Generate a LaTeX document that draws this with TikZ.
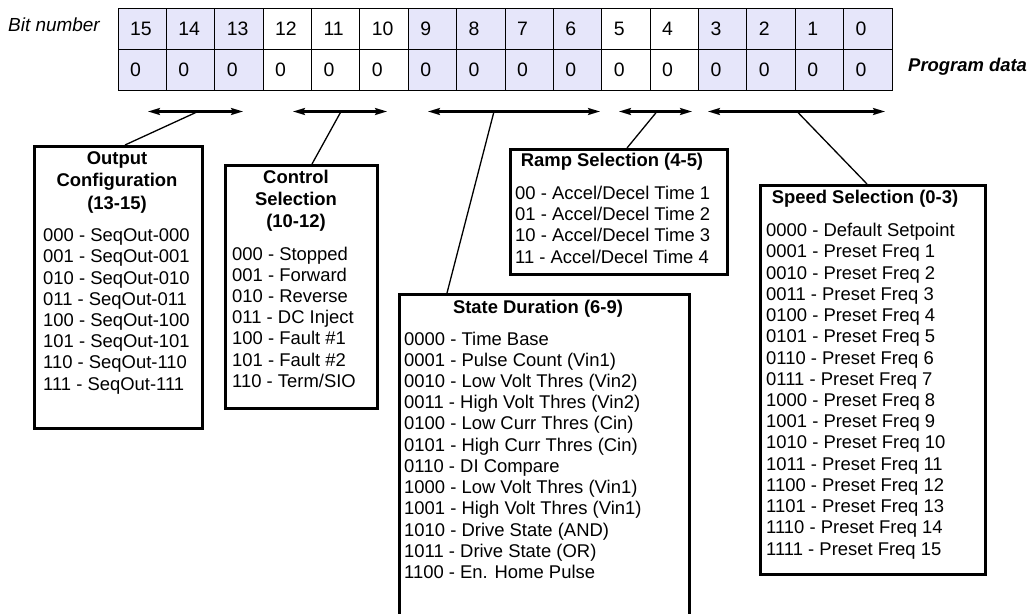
\documentclass[tikz,border=0pt]{standalone}
\usepackage{fontspec}
\setmainfont{Liberation Sans}
\usepackage{xcolor}
\usetikzlibrary{arrows.meta}

\definecolor{lav}{RGB}{230,230,250}
\newcommand{\cellfont}{\fontsize{19.5}{22}\selectfont}
\newcommand{\listfont}{\fontsize{18.5}{21.3}\selectfont}
\newcommand{\headfont}{\fontsize{18.5}{22.5}\selectfont\bfseries}

\begin{document}
\begin{tikzpicture}[x=1bp, y=-1bp]
    % Define styles
    \tikzstyle{cell} = [draw, line width=0.8bp, minimum width=48.375bp, minimum height=41bp, text width=24.375bp, inner xsep=12bp, inner ysep=0pt, align=left, font=\cellfont]
    \tikzstyle{field} = [draw, line width=3bp, anchor=north west, inner sep=0pt]
    \tikzstyle{head} = [font=\headfont, inner sep=0pt, align=center]
    \tikzstyle{items} = [font=\listfont, inner sep=0pt, align=left, anchor=north west]
    \tikzstyle{span} = [{Stealth[length=12bp, width=7bp, inset=2bp]}-{Stealth[length=12bp, width=7bp, inset=2bp]}, line width=2.2bp]
    \tikzstyle{lead} = [line width=1.3bp]

    \useasboundingbox (0,0) rectangle (1030,614);
    \clip (0,0) rectangle (1030,614);

    % Register: bit numbers and program data
    \foreach \i in {0,...,15} {
        \pgfmathtruncatemacro{\b}{15-\i}
        \pgfmathtruncatemacro{\sh}{(\b>12)||((\b<10)&&(\b>5))||(\b<4)}
        \ifnum\sh=1 \def\cfill{lav}\else\def\cfill{white}\fi
        \node[cell, fill=\cfill] (bit\b) at ({118+48.375*(\i+0.5)},28.5) {\b};
        \node[cell, fill=\cfill] (val\b) at ({118+48.375*(\i+0.5)},69.5) {0};
    }
    \node[font=\fontsize{19}{22}\selectfont\itshape, anchor=base west, inner sep=0pt] (bitlabel) at (8,32) {Bit number};
    \node[font=\listfont\bfseries\itshape, anchor=base west, inner sep=0pt] (datalabel) at (908,72) {Program data};

    % Field boxes
    \node[field, minimum width=168bp, minimum height=282bp] (outbox) at (33,145) {};
    \node[field, minimum width=152bp, minimum height=243bp] (ctlbox) at (224,164) {};
    \node[field, minimum width=290bp, minimum height=340bp] (durbox) at (398,293) {};
    \node[field, minimum width=217bp, minimum height=125bp] (rampbox) at (509,148) {};
    \node[field, minimum width=225bp, minimum height=389bp] (spdbox) at (759,184) {};

    % Box titles
    \node[head, anchor=north] (outhead) at (117,151.3) {Output\\Configuration\\(13-15)};
    \node[head, anchor=north] (ctlhead) at (296,169.5) {Control\\Selection\\(10-12)};
    \node[head, anchor=base] (durhead) at (538,313) {State Duration (6-9)};
    \node[head, anchor=base] (ramphead) at (612,167) {Ramp Selection (4-5)};
    \node[head, anchor=base] (spdhead) at (865,204) {Speed Selection (0-3)};

    % Box contents
    \node[items] (outlist) at (43,228.5) {000 - SeqOut-000\\001 - SeqOut-001\\010 - SeqOut-010\\011 - SeqOut-011\\100 - SeqOut-100\\101 - SeqOut-101\\110 - SeqOut-110\\111 - SeqOut-111};
    \node[items] (ctllist) at (232,246.5) {000 - Stopped\\001 - Forward\\010 - Reverse\\011 - DC Inject\\100 - Fault \#1\\101 - Fault \#2\\110 - Term/SIO};
    \node[items] (durlist) at (404,331.5) {0000 - Time Base\\0001 - Pulse Count (Vin1)\\0010 - Low Volt Thres (Vin2)\\0011 - High Volt Thres (Vin2)\\0100 - Low Curr Thres (Cin)\\0101 - High Curr Thres (Cin)\\0110 - DI Compare\\1000 - Low Volt Thres (Vin1)\\1001 - High Volt Thres (Vin1)\\1010 - Drive State (AND)\\1011 - Drive State (OR)\\1100 - En. Home Pulse};
    \node[items] (ramplist) at (515,185.8) {00 - Accel/Decel Time 1\\01 - Accel/Decel Time 2\\10 - Accel/Decel Time 3\\11 - Accel/Decel Time 4};
    \node[items] (spdlist) at (766,223.2) {0000 - Default Setpoint\\0001 - Preset Freq 1\\0010 - Preset Freq 2\\0011 - Preset Freq 3\\0100 - Preset Freq 4\\0101 - Preset Freq 5\\0110 - Preset Freq 6\\0111 - Preset Freq 7\\1000 - Preset Freq 8\\1001 - Preset Freq 9\\1010 - Preset Freq 10\\1011 - Preset Freq 11\\1100 - Preset Freq 12\\1101 - Preset Freq 13\\1110 - Preset Freq 14\\1111 - Preset Freq 15};

    % Bit spans
    \coordinate (outL) at (148,111.5);
    \coordinate (outR) at (243,111.5);
    \coordinate (outJ) at (198,111.5);
    \coordinate (ctlL) at (293,111.5);
    \coordinate (ctlR) at (387,111.5);
    \coordinate (ctlJ) at (341,111.5);
    \coordinate (durL) at (428,111.5);
    \coordinate (durR) at (600,111.5);
    \coordinate (durJ) at (494,111.5);
    \coordinate (rampL) at (619,111.5);
    \coordinate (rampR) at (692,111.5);
    \coordinate (rampJ) at (657,111.5);
    \coordinate (spdL) at (708,111.5);
    \coordinate (spdR) at (885,111.5);
    \coordinate (spdJ) at (797,111.5);

    \draw[span] (outL) -- (outR);
    \draw[span] (ctlL) -- (ctlR);
    \draw[span] (durL) -- (durR);
    \draw[span] (rampL) -- (rampR);
    \draw[span] (spdL) -- (spdR);

    % Leaders to the boxes
    \draw[lead] (outJ) -- ([xshift=92bp]outbox.north west);
    \draw[lead] (ctlJ) -- ([xshift=88bp]ctlbox.north west);
    \draw[lead] (durJ) -- ([xshift=49bp]durbox.north west);
    \draw[lead] (rampJ) -- ([xshift=118bp]rampbox.north west);
    \draw[lead] (spdJ) -- ([xshift=108bp]spdbox.north west);
\end{tikzpicture}
\end{document}
